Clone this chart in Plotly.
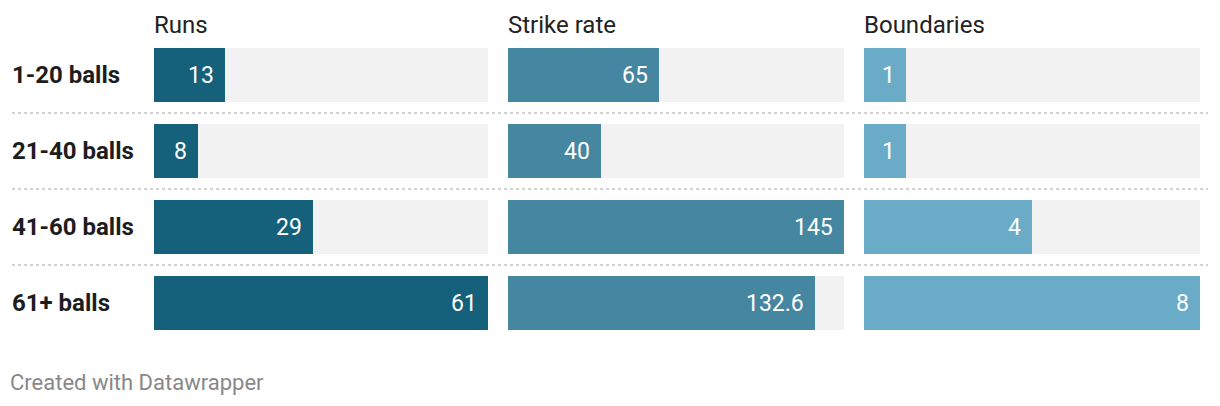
import plotly.graph_objects as go

categories = ["1-20 balls", "21-40 balls", "41-60 balls", "61+ balls"]
metrics = ["Runs", "Strike rate", "Boundaries"]
runs = [13, 8, 29, 61]
strike_rate = [65, 40, 145, 132.6]
boundaries = [1, 1, 4, 8]
value_labels = [
    ["13", "8", "29", "61"],
    ["65", "40", "145", "132.6"],
    ["1", "1", "4", "8"],
]
series = [runs, strike_rate, boundaries]
colors = ["#15607a", "#4586a1", "#6aabc8"]

W, H = 1220, 406
# panel pixel extents
panels = [(154, 488), (508, 844), (864, 1200)]

fig = go.Figure()
ypos = list(range(len(categories)))
bar_w = 54 / 76

for k, (vals, col) in enumerate(zip(series, colors)):
    xa = "x" if k == 0 else f"x{k+1}"
    vmax = max(vals)
    fig.add_trace(go.Bar(
        x=[vmax] * len(vals), y=ypos, orientation="h", width=bar_w,
        marker=dict(color="#f2f2f2", line=dict(width=0)),
        xaxis=xa, yaxis="y", hoverinfo="skip", showlegend=False,
    ))
    fig.add_trace(go.Bar(
        x=vals, y=ypos, orientation="h", width=bar_w,
        marker=dict(color=col, line=dict(width=0)),
        xaxis=xa, yaxis="y", showlegend=False,
    ))
    for i, v in enumerate(vals):
        fig.add_annotation(
            x=v, y=i, xref=xa, yref="y", text=value_labels[k][i],
            showarrow=False, xanchor="right", yanchor="middle", xshift=-9,
            font=dict(family="Roboto", size=23, color="#ffffff"),
        )
    x0, x1 = panels[k]
    fig.add_annotation(
        x=x0 / W, y=1 - 25 / H, xref="paper", yref="paper", text=metrics[k],
        showarrow=False, xanchor="left", yanchor="middle", xshift=-2,
        font=dict(family="Roboto", size=24, color="#222222"),
    )

for i, c in enumerate(categories):
    fig.add_annotation(
        x=10 / W, y=i, xref="paper", yref="y", text=f"<b>{c}</b>",
        showarrow=False, xanchor="left", yanchor="middle",
        font=dict(family="Roboto", size=24, color="#1d1d1d"),
    )

for i in range(len(categories) - 1):
    fig.add_shape(
        type="line", x0=12 / W, x1=1208 / W, xref="paper",
        y0=i + 0.5, y1=i + 0.5, yref="y",
        line=dict(color="#c4c4c4", width=1.5, dash="dot"),
    )

fig.add_annotation(
    x=8 / W, y=1 - 382 / H, xref="paper", yref="paper",
    text="Created with Datawrapper", showarrow=False,
    xanchor="left", yanchor="middle",
    font=dict(family="Roboto", size=22, color="#888888"),
)

layout_axes = {}
for k, vals in enumerate(series):
    name = "xaxis" if k == 0 else f"xaxis{k+1}"
    x0, x1 = panels[k]
    layout_axes[name] = dict(
        domain=[x0 / W, x1 / W], range=[0, max(vals)],
        showgrid=False, zeroline=False, showticklabels=False, fixedrange=True,
        anchor="y",
    )

top = -75 / 76
bottom = (H - 75) / 76
fig.update_layout(
    width=W, height=H,
    margin=dict(l=0, r=0, t=0, b=0),
    paper_bgcolor="#ffffff", plot_bgcolor="rgba(0,0,0,0)",
    barmode="overlay", bargap=0,
    yaxis=dict(domain=[0, 1], range=[bottom, top], showgrid=False,
               zeroline=False, showticklabels=False, fixedrange=True),
    font=dict(family="Roboto"),
    **layout_axes,
)

fig.write_html("out.html", config={"displayModeBar": False})
